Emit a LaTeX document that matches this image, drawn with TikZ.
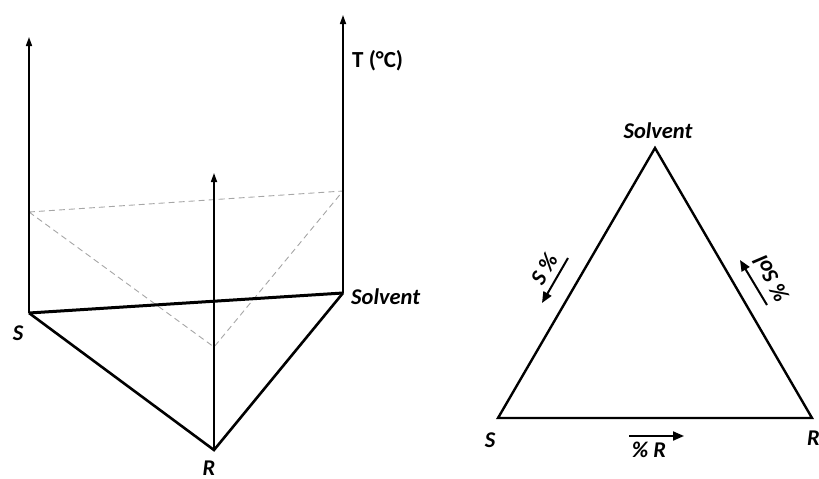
\documentclass[tikz,border=0pt]{standalone}
\usepackage{fontspec}
\setmainfont{Carlito}
\usetikzlibrary{arrows.meta}
\begin{document}
\begin{tikzpicture}[x=1pt,y=-1pt,
  lbl/.style={font=\fontsize{22.5}{22.5}\selectfont\bfseries\itshape, inner sep=0pt},
  upl/.style={font=\fontsize{23}{23}\selectfont\bfseries, inner sep=0pt},
  axis/.style={line width=1.6pt, -{Triangle[length=9pt,width=6pt]}},
  baseline/.style={line width=3pt},
  prism/.style={line width=2.6pt, line join=miter},
  hidden/.style={draw=black!35, line width=0.9pt, dash pattern=on 6pt off 4pt},
  side/.style={line width=2.4pt, line join=miter},
  small/.style={line width=2pt, -{Triangle[length=11pt,width=9pt]}}]
\useasboundingbox (0,0) rectangle (819,479);
% ---------- left: 3D prism ----------
\coordinate (LS) at (29,313);
\coordinate (LSol) at (343,293);
\coordinate (LR) at (214,450);
\coordinate (LStop) at (29,37);
\coordinate (LSoltop) at (343,15);
\coordinate (LRtop) at (214,173);
\coordinate (DS) at (29,212);
\coordinate (DSol) at (343,191);
\coordinate (DR) at (214,347);
\draw[hidden] (DS) -- (DSol) -- (DR) -- cycle;
\draw[baseline] (LS) -- (LSol);
\draw[prism] (LS) -- (LR) -- (LSol);
\draw[axis] (LS) -- (LStop);
\draw[axis] (LSol) -- (LSoltop);
\draw[axis] (LR) -- (LRtop);
\node[upl, anchor=base west] (T) at (352,67) {T (°C)};
\node[lbl, anchor=base west] (lsolv) at (351,304) {Solvent};
\node[lbl, anchor=base] (ls) at (18,340) {S};
\node[lbl, anchor=base] (lr) at (209,475) {R};
% ---------- right: ternary triangle ----------
\coordinate (TA) at (655,148);
\coordinate (TS) at (498,418);
\coordinate (TR) at (812,418);
\draw[side] (TS) -- (TA) -- (TR) -- cycle;
\node[lbl, anchor=base] (tsolv) at (658,138) {Solvent};
\node[lbl, anchor=base] (ts) at (490,447) {S};
\node[lbl, anchor=base west] (tr) at (807,445) {R};
\coordinate (aS1) at (568,258);
\coordinate (aS2) at (542,303);
\draw[small] (aS1) -- (aS2);
\node[lbl, rotate=60] (sp) at (544,269) {S \%};
\coordinate (aO1) at (767,305);
\coordinate (aO2) at (740,260);
\draw[small] (aO1) -- (aO2);
\node[lbl, rotate=120] (sop) at (771,279) {\% Sol};
\coordinate (aR1) at (629,436);
\coordinate (aR2) at (684,436);
\draw[small] (aR1) -- (aR2);
\node[lbl, anchor=base] (rp) at (649,457) {\% R};
\end{tikzpicture}
\end{document}
